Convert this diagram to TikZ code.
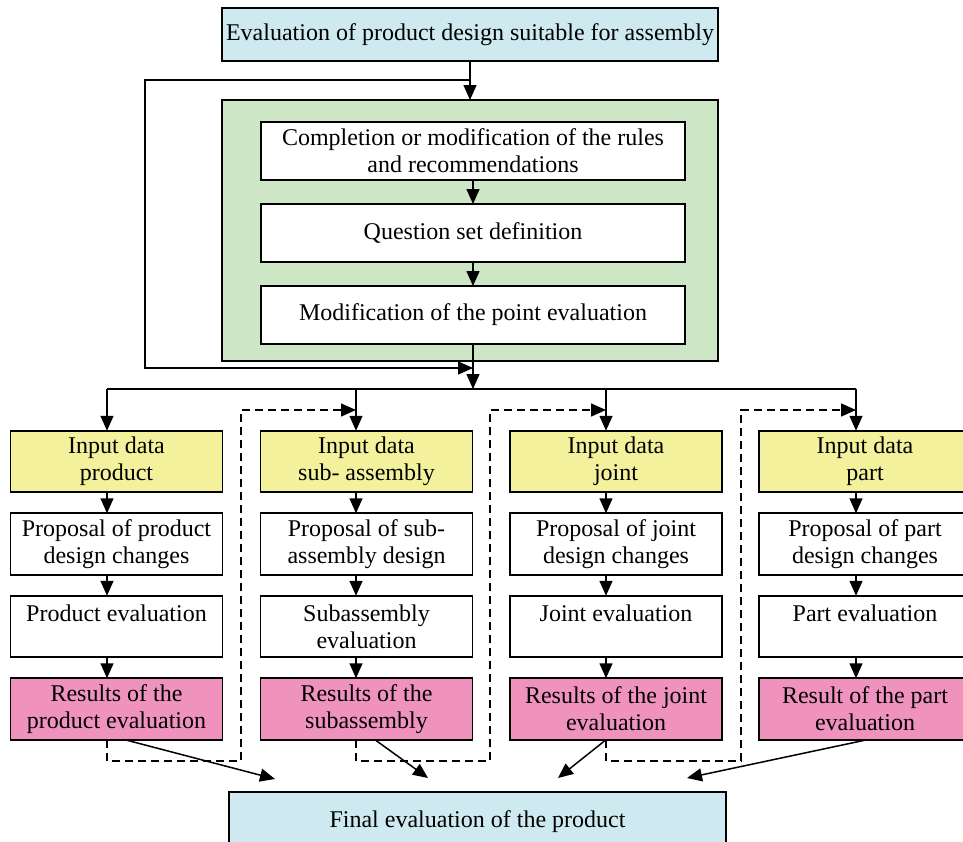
\documentclass[tikz,border=0pt]{standalone}
\usepackage{fontspec}
\setmainfont{Liberation Serif}
\usepackage{tikz}
\usetikzlibrary{arrows.meta,positioning}
\definecolor{topcyan}{RGB}{206,234,240}
\definecolor{groupgreen}{RGB}{205,230,197}
\definecolor{inyellow}{RGB}{243,241,155}
\definecolor{respink}{RGB}{240,146,190}

\begin{document}
\begin{tikzpicture}[
			x=1pt, y=-1pt,
			node distance=21pt,
			font=\fontsize{24}{27}\selectfont,
			box/.style={draw, line width=1.6pt, fill=white, inner sep=0pt, outer sep=0pt, minimum height=61.5pt, align=center},
			colbox/.style={box, minimum width=212pt},
			arrow/.style={-{Triangle[length=15pt,width=13pt]}, line width=1.5pt},
			dasharrow/.style={arrow, dash pattern=on 8pt off 5pt}
		]
		\useasboundingbox (0,0) rectangle (963,841);

		% top part
		\node[box, fill=topcyan, minimum width=496pt, minimum height=53pt] (top) at (470,34.5) {Evaluation of product design suitable for assembly};
		\node[box, fill=groupgreen, minimum width=496pt, minimum height=261pt] (grn) at (470,230.5) {};
		\node[box, minimum width=424pt, minimum height=58pt] (q1) at (473,151) {Completion or modification of the rules\\and recommendations};
		\node[box, minimum width=424pt, minimum height=58pt, below=24pt of q1] (q2) {Question set definition};
		\node[box, minimum width=424pt, minimum height=58pt, below=24pt of q2] (q3) {Modification of the point evaluation};

		% columns
		\node[colbox, fill=inyellow] (in1) at (116.5,461.5) {Input data\\product};
		\node[colbox, below=of in1] (pr1) {Proposal of product\\design changes};
		\node[colbox, below=of pr1] (ev1) {Product evaluation\\~};
		\node[colbox, fill=respink, below=of ev1] (res1) {Results of the\\product evaluation};

		\node[colbox, fill=inyellow] (in2) at (366.5,461.5) {Input data\\sub- assembly};
		\node[colbox, below=of in2] (pr2) {Proposal of sub-\\assembly design};
		\node[colbox, below=of pr2] (ev2) {Subassembly\\evaluation};
		\node[colbox, fill=respink, below=of ev2] (res2) {Results of the\\subassembly};

		\node[colbox, fill=inyellow] (in3) at (616,461.5) {Input data\\joint};
		\node[colbox, below=of in3] (pr3) {Proposal of joint\\design changes};
		\node[colbox, below=of pr3] (ev3) {Joint evaluation\\~};
		\node[colbox, fill=respink, below=of ev3] (res3) {Results of the joint\\evaluation};

		\node[colbox, fill=inyellow] (in4) at (865,461.5) {Input data\\part};
		\node[colbox, below=of in4] (pr4) {Proposal of part\\design changes};
		\node[colbox, below=of pr4] (ev4) {Part evaluation\\~};
		\node[colbox, fill=respink, below=of ev4] (res4) {Result of the part\\evaluation};

		\node[box, fill=topcyan, minimum width=497pt, minimum height=60pt] (fin) at (477.5,822) {Final evaluation of the product};

		% helper points
		\coordinate (lp) at (145,80);
		\coordinate (lq) at (145,368);
		\coordinate (k1) at (107,389);
		\coordinate (k2) at (356,389);
		\coordinate (k3) at (606,389);
		\coordinate (k4) at (856,389);
		\coordinate (db) at (0,761);
		\coordinate (d1) at (241,410);
		\coordinate (d2) at (490,410);
		\coordinate (d3) at (741,410);
		\coordinate (f1) at (275,779);
		\coordinate (f2) at (428,778);
		\coordinate (f3) at (558,778);
		\coordinate (f4) at (687,778);

		% top connectors and loop
		\draw[arrow] (top.south) -- (top.south |- grn.north);
		\draw[arrow] (top.south |- lp) -- (lp) -- (lq) -- (lq -| q3.south);
		\draw[arrow] (q1.south) -- (q2.north);
		\draw[arrow] (q2.south) -- (q3.north);
		\draw[arrow] (q3.south) -- (q3.south |- k1);

		% bus to the columns
		\draw[line width=1.5pt] (k1) -- (k4);
		\draw[arrow] (k1) -- (in1.north -| k1);
		\draw[arrow] (k2) -- (in2.north -| k2);
		\draw[arrow] (k3) -- (in3.north -| k3);
		\draw[arrow] (k4) -- (in4.north -| k4);

		% inside the columns
		\draw[arrow] (in1.south -| k1) -- (pr1.north -| k1);
		\draw[arrow] (pr1.south -| k1) -- (ev1.north -| k1);
		\draw[arrow] (ev1.south -| k1) -- (res1.north -| k1);
		\draw[arrow] (in2.south -| k2) -- (pr2.north -| k2);
		\draw[arrow] (pr2.south -| k2) -- (ev2.north -| k2);
		\draw[arrow] (ev2.south -| k2) -- (res2.north -| k2);
		\draw[arrow] (in3.south -| k3) -- (pr3.north -| k3);
		\draw[arrow] (pr3.south -| k3) -- (ev3.north -| k3);
		\draw[arrow] (ev3.south -| k3) -- (res3.north -| k3);
		\draw[arrow] (in4.south -| k4) -- (pr4.north -| k4);
		\draw[arrow] (pr4.south -| k4) -- (ev4.north -| k4);
		\draw[arrow] (ev4.south -| k4) -- (res4.north -| k4);

		% dashed feedback to the next column
		\draw[dasharrow] (res1.south -| k1) |- (db -| d1) -- (d1) -- (d1 -| k2);
		\draw[dasharrow] (res2.south -| k2) |- (db -| d2) -- (d2) -- (d2 -| k3);
		\draw[dasharrow] (res3.south -| k3) |- (db -| d3) -- (d3) -- (d3 -| k4);

		% results to the final evaluation
		\draw[arrow] ([xshift=8.5pt]res1.south) -- (f1);
		\draw[arrow] ([xshift=8.5pt]res2.south) -- (f2);
		\draw[arrow] (res3.south -| k3) -- (f3);
		\draw[arrow] ([xshift=2pt]res4.south) -- (f4);

	\end{tikzpicture}
\end{document}
